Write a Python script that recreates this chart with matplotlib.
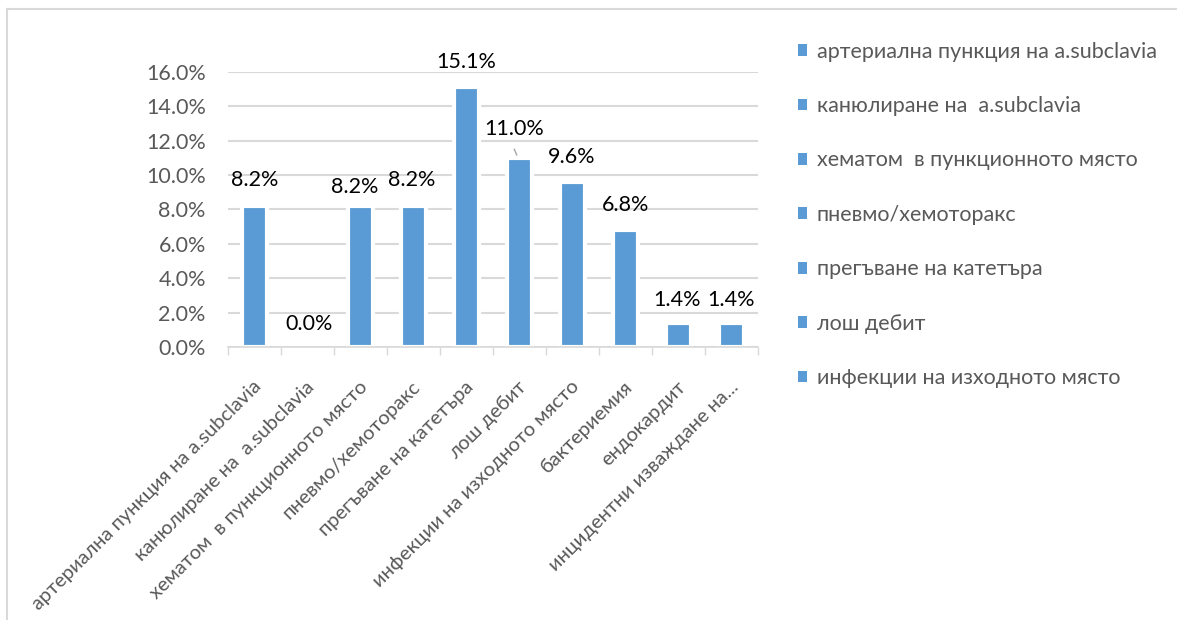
import matplotlib.pyplot as plt
from matplotlib.patches import Patch
from matplotlib.lines import Line2D

plt.rcParams['font.family'] = ['Lato', 'DejaVu Sans']

categories = [
    "артериална пункция на a.subclavia",
    "канюлиране на  a.subclavia",
    "хематом  в пункционното място",
    "пневмо/хемоторакс",
    "прегъване на катетъра",
    "лош дебит",
    "инфекции на изходното място",
    "бактериемия",
    "ендокардит",
    "инцидентни изваждане на...",
]
values = [8.2, 0.0, 8.2, 8.2, 15.1, 11.0, 9.6, 6.8, 1.4, 1.4]
legend_labels = categories[:7]
yticks = [0, 2, 4, 6, 8, 10, 12, 14, 16]

# label offsets (pixels) from the top of each bar
label_dx = [0, 2, -6, -2, 0, -5, -1, 0, -1, 0]
label_dy = [26, 23, 19, 26, 25, 29, 25, 25, 23, 23]

BLUE = "#5b9bd5"
GRID = "#d9d9d9"
TEXT = "#595959"
FS = 15.5

W, H = 1177, 620
fig = plt.figure(figsize=(W / 100, H / 100), dpi=100)
ax = fig.add_axes([228 / W, 1 - 347 / H, (758 - 228) / W, (347 - 71.7) / H])

x = list(range(len(values)))
ax.bar(x, values, width=0.49, color=BLUE, edgecolor="white",
       linewidth=[3 if v > 0 else 0 for v in values], zorder=3)

ax.set_xlim(-0.5, len(values) - 0.5)
ax.set_ylim(0, 16)
ax.set_yticks(yticks)
ax.set_yticklabels([f"{v:.1f}%" for v in yticks], color=TEXT, fontsize=FS)
ax.yaxis.grid(True, color=GRID, linewidth=1.5, zorder=0)
ax.tick_params(axis="y", length=0, pad=16)

ax.set_xticks([i - 0.5 for i in range(len(values) + 1)])
ax.set_xticklabels([])
ax.tick_params(axis="x", direction="out", length=6, width=1, color=GRID)
for i, name in enumerate(categories):
    ax.annotate(name, xy=(i, 0), xycoords=("data", "axes fraction"),
                xytext=(4, -37), textcoords="offset pixels",
                rotation=45, ha="right", va="center", rotation_mode="anchor",
                fontsize=14.5, color=TEXT)

for side in ["top", "right", "left"]:
    ax.spines[side].set_visible(False)
ax.spines["bottom"].set_color(GRID)
ax.spines["bottom"].set_linewidth(1.2)
ax.spines["bottom"].set_zorder(4)

for i, v in enumerate(values):
    ax.annotate(f"{v:.1f}%", xy=(i, v), xytext=(label_dx[i], label_dy[i]),
                textcoords="offset pixels", ha="center", va="center",
                fontsize=FS, color="black", zorder=5)

# leader line from the moved label to its bar
ax.annotate("", xy=(5 - 0.03, values[5]), xytext=(5 - 0.12, values[5] + 0.65),
            arrowprops=dict(arrowstyle="-", color="#a6a6a6", lw=1))

handles = [Patch(facecolor=BLUE, edgecolor="none") for _ in legend_labels]
fig.legend(handles, legend_labels, loc="upper left",
           bbox_to_anchor=(789 / W, 1 - 33 / H), frameon=False,
           fontsize=FS, labelcolor=TEXT, handlelength=0.45, handleheight=0.45,
           handletextpad=0.45, labelspacing=1.6, borderaxespad=0)

# chart border
fig.add_artist(Line2D([7 / W, 1], [1 - 9 / H, 1 - 9 / H], color=GRID, lw=1.5))
fig.add_artist(Line2D([7 / W, 7 / W], [0, 1 - 9 / H], color=GRID, lw=1.5))

fig.savefig("out.png", dpi=100, facecolor="white")
